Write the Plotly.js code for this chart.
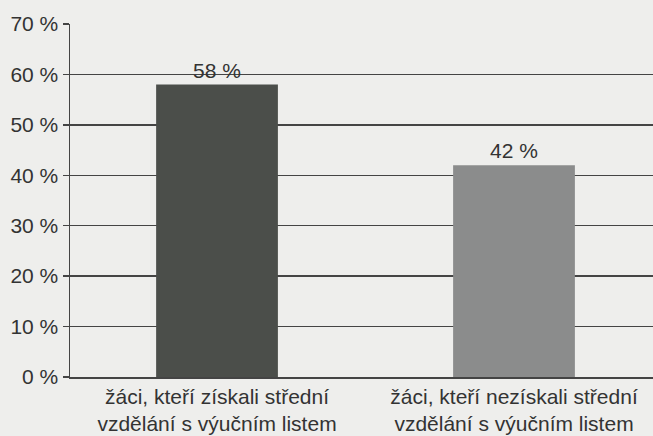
<!DOCTYPE html>
<html>
<head>
<meta charset="utf-8">
<script src="https://cdn.plot.ly/plotly-3.0.1.min.js"></script>
<style>html,body{margin:0;padding:0;background:#eeeeec;}#chart{width:653px;height:436px;}</style>
</head>
<body>
<div id="chart"></div>
<script>
var categories = ["žáci, kteří získali střední<br>vzdělání s výučním listem", "žáci, kteří nezískali střední<br>vzdělání s výučním listem"];
var values = [58, 42];
var barColors = ["#4b4e4a", "#8b8c8c"];
var yTicks = [0, 10, 20, 30, 40, 50, 60, 70];

var trace = {
  type: "bar",
  x: [0, 1],
  y: values,
  width: 0.41,
  marker: {color: barColors, line: {width: 0}},
  text: values.map(function(v){return v + " %";}),
  textposition: "outside",
  cliponaxis: false,
  textfont: {family: "Liberation Sans, Arial, sans-serif", size: 21, color: "#333"},
  hoverinfo: "none"
};

var layout = {
  width: 653, height: 436,
  margin: {l: 70, r: 0, t: 24, b: 59},
  paper_bgcolor: "#eeeeec",
  plot_bgcolor: "#eeeeec",
  showlegend: false,
  font: {family: "Liberation Sans, Arial, sans-serif", size: 21, color: "#333"},
  xaxis: {
    range: [-0.495, 1.468],
    tickmode: "array",
    tickvals: [0, 1],
    ticktext: categories,
    showgrid: false,
    zeroline: false,
    showline: true,
    linecolor: "#444",
    linewidth: 1.5,
    ticks: "",
    tickfont: {size: 21, color: "#333"},
    fixedrange: true
  },
  yaxis: {
    range: [0, 70],
    tickmode: "array",
    tickvals: yTicks,
    ticktext: yTicks.map(function(v){return v + " %";}),
    showgrid: true,
    gridcolor: "#444",
    gridwidth: 1.5,
    zeroline: false,
    showline: true,
    linecolor: "#444",
    linewidth: 1.5,
    ticks: "outside",
    ticklen: 6,
    tickcolor: "#444",
    tickwidth: 1.5,
    tickfont: {size: 21, color: "#333"},
    fixedrange: true
  },
  bargap: 0.59
};

Plotly.newPlot("chart", [trace], layout, {displayModeBar: false, staticPlot: true});
</script>
</body>
</html>
